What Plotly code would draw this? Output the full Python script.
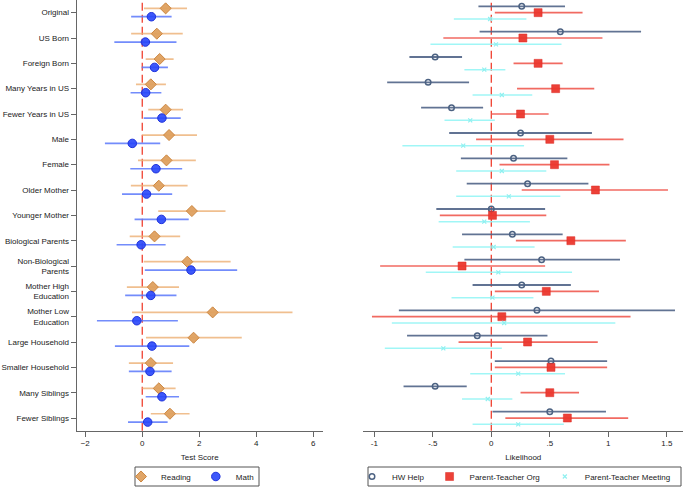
import plotly.graph_objects as go

categories = ["Original", "US Born", "Foreign Born", "Many Years in US", "Fewer Years in US",
              "Male", "Female", "Older Mother", "Younger Mother", "Biological Parents",
              "Non-Biological<br>Parents", "Mother High<br>Education", "Mother Low<br>Education",
              "Large Household", "Smaller Household", "Many Siblings", "Fewer Siblings"]

reading = [0.82, 0.51, 0.61, 0.30, 0.82, 0.94, 0.85, 0.58, 1.74, 0.43, 1.58, 0.37, 2.47, 1.80, 0.30, 0.58, 0.97]
reading_lo = [0.06, -0.39, 0.12, -0.22, 0.21, 0.00, -0.15, -0.40, 0.56, -0.44, 0.05, -0.54, -0.36, 0.13, -0.47, 0.00, 0.30]
reading_hi = [1.57, 1.42, 1.10, 0.83, 1.43, 1.92, 1.88, 1.59, 2.92, 1.33, 3.10, 1.29, 5.27, 3.49, 1.08, 1.17, 1.66]

math_ = [0.32, 0.11, 0.43, 0.12, 0.69, -0.35, 0.48, 0.15, 0.67, -0.04, 1.71, 0.30, -0.19, 0.34, 0.27, 0.69, 0.19]
math_lo = [-0.39, -0.98, -0.02, -0.41, 0.05, -1.31, -0.42, -0.71, -0.27, -0.90, 0.09, -0.60, -1.59, -0.96, -0.47, 0.12, -0.50]
math_hi = [1.03, 1.20, 0.90, 0.67, 1.35, 0.63, 1.40, 1.05, 1.63, 0.82, 3.33, 1.20, 1.25, 1.65, 1.03, 1.29, 0.89]

hw = [0.26, 0.59, -0.48, -0.54, -0.34, 0.25, 0.19, 0.31, 0.00, 0.18, 0.43, 0.26, 0.39, -0.12, 0.51, -0.48, 0.50]
hw_lo = [-0.11, -0.10, -0.70, -0.89, -0.60, -0.36, -0.26, -0.21, -0.47, -0.25, -0.23, -0.16, -0.79, -0.72, 0.03, -0.75, 0.01]
hw_hi = [0.63, 1.28, -0.25, -0.19, -0.07, 0.86, 0.65, 0.83, 0.46, 0.61, 1.10, 0.68, 1.57, 0.48, 0.99, -0.21, 0.98]

pto = [0.40, 0.27, 0.40, 0.55, 0.25, 0.50, 0.54, 0.89, 0.01, 0.68, -0.25, 0.47, 0.09, 0.31, 0.51, 0.50, 0.65]
pto_lo = [0.03, -0.41, 0.19, 0.22, 0.00, -0.13, 0.07, 0.26, -0.44, 0.21, -0.95, 0.03, -1.02, -0.28, 0.03, 0.25, 0.12]
pto_hi = [0.78, 0.95, 0.61, 0.88, 0.49, 1.13, 1.01, 1.51, 0.47, 1.15, 0.46, 0.92, 1.19, 0.91, 0.99, 0.75, 1.17]

ptm = [-0.01, 0.04, -0.06, 0.09, -0.18, -0.24, 0.09, 0.15, -0.06, 0.02, 0.06, 0.01, 0.11, -0.41, 0.23, -0.03, 0.23]
ptm_lo = [-0.32, -0.52, -0.23, -0.16, -0.40, -0.76, -0.30, -0.30, -0.45, -0.33, -0.56, -0.34, -0.85, -0.91, -0.18, -0.25, -0.16]
ptm_hi = [0.30, 0.60, 0.12, 0.35, 0.03, 0.28, 0.47, 0.59, 0.33, 0.37, 0.69, 0.36, 1.06, 0.09, 0.63, 0.18, 0.62]

left_ticks = [-2, 0, 2, 4, 6]
right_ticks = [-1, -0.5, 0, 0.5, 1, 1.5]
right_tick_text = ["-1", "-.5", "0", ".5", "1", "1.5"]

FONT = "Liberation Sans, Arial, sans-serif"
FS = 8
W, H = 685, 487
n = len(categories)
idx = list(range(n))

fig = go.Figure()


def add_series(x, lo, hi, off, name, xa, ya, legend, marker, ecolor, ethick):
    fig.add_trace(go.Scatter(
        x=x, y=[i + off for i in idx], mode="markers", name=name,
        xaxis=xa, yaxis=ya, legend=legend, marker=marker,
        error_x=dict(type="data", symmetric=False,
                     array=[h - v for h, v in zip(hi, x)],
                     arrayminus=[v - l for v, l in zip(x, lo)],
                     color=ecolor, thickness=ethick, width=0),
        cliponaxis=False,
    ))


add_series(reading, reading_lo, reading_hi, -0.17, "Reading", "x", "y", "legend",
           dict(symbol="diamond", size=8.5, color="rgba(222,160,95,0.95)",
                line=dict(color="rgba(205,135,65,1)", width=1)),
           "rgba(236,175,115,0.8)", 1.7)
add_series(math_, math_lo, math_hi, 0.16, "Math", "x", "y", "legend",
           dict(symbol="circle", size=8.5, color="rgba(40,70,250,0.9)",
                line=dict(color="rgba(30,50,220,1)", width=1)),
           "rgba(90,120,250,0.85)", 1.7)

add_series(hw, hw_lo, hw_hi, -0.25, "HW Help", "x2", "y2", "legend2",
           dict(symbol="circle-open", size=5.5, color="#4c6282", line=dict(width=1.5)),
           "rgba(80,100,135,0.9)", 1.8)
add_series(pto, pto_lo, pto_hi, 0.0, "Parent-Teacher Org", "x2", "y2", "legend2",
           dict(symbol="square", size=8, color="rgba(235,55,45,0.95)",
                line=dict(color="rgba(220,40,35,1)", width=0.5)),
           "rgba(240,90,80,0.9)", 1.7)
add_series(ptm, ptm_lo, ptm_hi, 0.25, "Parent-Teacher Meeting", "x2", "y2", "legend2",
           dict(symbol="x-thin-open", size=4, color="#8ff0f0", line=dict(width=1.2, color="#8ff0f0")),
           "rgba(150,245,245,0.9)", 1.5)

# zero reference lines
for xa, ya in (("x", "y"), ("x2", "y2")):
    fig.add_shape(type="line", xref=xa, yref=ya + " domain", x0=0, x1=0, y0=0, y1=1,
                  line=dict(color="#f0402f", width=1.3, dash="8px,4px"), layer="below")

# legend frames
for x0, x1 in ((135, 259), (368, 681)):
    fig.add_shape(type="rect", xref="paper", yref="paper",
                  x0=x0 / W, x1=x1 / W, y0=1 - 486 / H, y1=1 - 467 / H,
                  line=dict(color="#555", width=1), fillcolor="rgba(0,0,0,0)")

axis_common = dict(showgrid=False, zeroline=False, showline=True, linecolor="#666",
                   linewidth=1.2, ticks="outside", ticklen=5, tickcolor="#666",
                   tickfont=dict(family=FONT, size=FS, color="#222"), automargin=False)

legend_common = dict(orientation="h", xref="container", yref="container",
                     yanchor="middle", y=1 - 476.5 / H, xanchor="left",
                     borderwidth=0, bgcolor="rgba(0,0,0,0)",
                     font=dict(family=FONT, size=FS, color="#222"), itemwidth=30,
                     tracegroupgap=0)

fig.update_layout(
    width=W, height=H,
    margin=dict(l=0, r=0, t=0, b=0, autoexpand=False),
    plot_bgcolor="white", paper_bgcolor="white",
    font=dict(family=FONT, size=FS, color="#222"),
    xaxis=dict(domain=[76.7 / W, 322.7 / W], range=[-2.30, 6.33],
               tickvals=left_ticks, anchor="y",
               title=dict(text="Test Score", font=dict(size=FS, family=FONT), standoff=6),
               **axis_common),
    yaxis=dict(domain=[1 - 430.7 / H, 1], range=[n - 0.5, -0.5],
               tickvals=idx, ticktext=categories, anchor="x",
               **axis_common),
    xaxis2=dict(domain=[363.3 / W, 683.3 / W], range=[-1.094, 1.641],
                tickvals=right_ticks, ticktext=right_tick_text, anchor="y2",
                title=dict(text="Likelihood", font=dict(size=FS, family=FONT), standoff=6),
                **axis_common),
    yaxis2=dict(domain=[1 - 430.7 / H, 1], range=[n - 0.5, -0.5], anchor="x2",
                showgrid=False, zeroline=False, showline=False, showticklabels=False,
                ticks=""),
    legend=dict(x=121 / W, **legend_common),
    legend2=dict(x=352 / W, **legend_common),
    showlegend=True,
)

fig.write_html("out.html", config={"displayModeBar": False},
               post_script="document.body.style.margin='0';document.body.style.overflow='hidden';")
